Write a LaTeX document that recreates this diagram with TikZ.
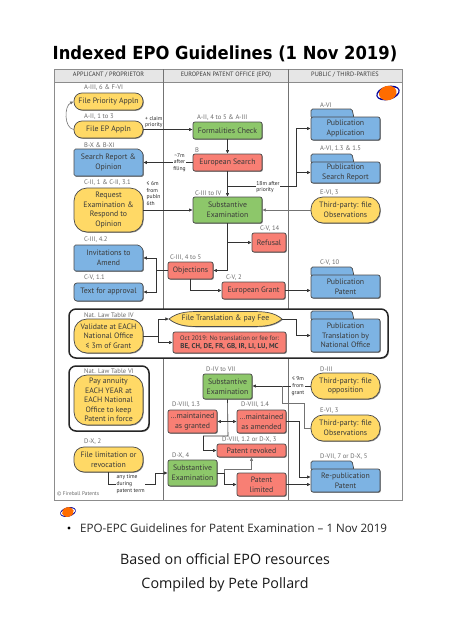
\documentclass[tikz,border=0pt]{standalone}
\usepackage{graphicx}
\usepackage{fontspec}
\setmainfont{PT Sans}
\newfontfamily\titlefont{DejaVu Sans}
\newfontfamily\footfont{Open Sans}
\usetikzlibrary{arrows.meta,shadows,calc}
\definecolor{cyel}{HTML}{FFD966}
\definecolor{cblu}{HTML}{7DB3E3}
\definecolor{cgrn}{HTML}{8DC76A}
\definecolor{cred}{HTML}{F87F74}
\definecolor{cbord}{HTML}{4A4A4A}
\definecolor{ctxt}{HTML}{3A3A3A}
\definecolor{cref}{HTML}{6A6A6A}
\definecolor{chead}{HTML}{E6E6E6}
\tikzset{
 x=1pt,y=-1pt,
 base/.style={draw=cbord,line width=.7pt,inner sep=0pt,align=center,text=ctxt,
   font=\fontsize{7.8}{9.6}\selectfont,
   drop shadow={shadow xshift=.8pt,shadow yshift=-.8pt,opacity=.45,fill=black}},
 yel/.style={base,fill=cyel,rounded corners=8pt},
 bigyel/.style={base,fill=cyel,rounded corners=13pt},
 blu/.style={base,fill=cblu,rounded corners=2pt},
 grn/.style={base,fill=cgrn,rounded corners=2pt},
 rd/.style={base,fill=cred,rounded corners=2pt},
 tab/.style={draw=cbord,line width=.7pt,fill=cblu,rounded corners=1.5pt},
 snip/.style={draw=cbord,line width=.7pt,fill=cblu,rounded corners=1.5pt,
   drop shadow={shadow xshift=.8pt,shadow yshift=-.8pt,opacity=.45,fill=black}},
 lens/.style={draw=cbord,line width=.7pt,fill=cyel,
   drop shadow={shadow xshift=.8pt,shadow yshift=-.8pt,opacity=.45,fill=black}},
 plain/.style={inner sep=0pt,align=center,text=ctxt,font=\fontsize{7.8}{9.6}\selectfont},
 big/.style={draw=black!85,line width=1.5pt,fill=white,rounded corners=7pt,
   drop shadow={shadow xshift=.8pt,shadow yshift=-.8pt,opacity=.4,fill=black}},
 conn/.style={draw=black!80,line width=.6pt,-{Latex[length=3.6pt,width=3.4pt]}},
 line/.style={draw=black!80,line width=.6pt},
 gconn/.style={draw=black!55,line width=.6pt,-{Latex[length=3.6pt,width=3.4pt]}},
 gline/.style={draw=black!55,line width=.6pt},
 ref/.style={anchor=west,inner sep=0pt,text=cref,font=\fontsize{6.6}{7}\selectfont},
 note/.style={inner sep=.5pt,fill=white,align=left,text=black!85,font=\fontsize{5.6}{6.6}\selectfont},
 head/.style={inner sep=0pt,text=ctxt,font=\fontsize{6.3}{7}\selectfont},
 logo/.pic={
   \fill[blue!60!black,rotate=15] (0,0) ellipse (1 and .58);
   \fill[white,rotate=15] (0,0) ellipse (.9 and .42);
   \fill[orange!85!red,rotate=15] (-.02,0) ellipse (.74 and .6);
 },
}
% name, centre y, height, text
\newcommand{\folder}[4]{%
  \draw[tab] (311,#2-#3/2+1) -- (311,#2-#3/2-8) -- (352,#2-#3/2-8) -- (354,#2-#3/2+1) -- cycle;
  \node[blu,minimum width=69pt,minimum height=#3pt] (#1) at (345.5,#2) {#4};}
\begin{document}
\begin{tikzpicture}
\useasboundingbox (0,0) rectangle (450,637);
\fill[white] (0,0) rectangle (450,637);

\node (title) at (225,54) {\scalebox{.91}[1]{\titlefont\bfseries\fontsize{18}{22}\selectfont Indexed EPO Guidelines (1 Nov 2019)}};

% swimlane frame
\draw[draw=black!45,line width=.7pt,fill=white,drop shadow={shadow xshift=.8pt,shadow yshift=-.8pt,opacity=.3,fill=black}] (54,69) rectangle (402,500);
\draw[draw=black!45,line width=.7pt,fill=chead] (54,69) rectangle (402,82);
\draw[draw=black!55,line width=.6pt] (163.5,69) -- (163.5,500) (288.5,69) -- (288.5,500);
\node[head] (h1) at (108.5,75) {APPLICANT / PROPRIETOR};
\node[head] (h2) at (226,75) {EUROPEAN PATENT OFFICE (EPO)};
\node[head] (h3) at (345,75) {PUBLIC / THIRD-PARTIES};
\pic[scale=12] at (388,93) {logo};

% large boxes
\path[big] (69,309) rectangle (388,358);
\path[big] (69,366) rectangle (149,431);

% applicant column
\node[yel,minimum width=69pt,minimum height=17pt] (fp) at (108.5,101.5) {File Priority Appln};
\node[yel,minimum width=69pt,minimum height=17pt] (fe) at (108.5,129.5) {File EP Appln};
\path[snip] (74,149) -- (139,149) -- (143,153) -- (143,176) -- (74,176) -- cycle;
\node[plain,minimum width=69pt,minimum height=27pt] (sr) at (108.5,162.5) {Search Report \&\\Opinion};
\node[bigyel,minimum width=69pt,minimum height=44pt] (rq) at (108.5,210) {Request\\Examination \&\\Respond to\\Opinion};
\path[snip] (74,245) -- (139,245) -- (143,249) -- (143,271) -- (74,271) -- cycle;
\node[plain,minimum width=69pt,minimum height=26pt] (ia) at (108.5,258) {Invitations to\\Amend};
\node[blu,rounded corners=3pt,minimum width=69pt,minimum height=18pt] (ta) at (108.5,292) {Text for approval};
\node[bigyel,minimum width=69pt,minimum height=34pt] (va) at (108.5,336) {Validate at EACH\\National Office\\≤ 3m of Grant};
\node[bigyel,minimum width=69pt,minimum height=50pt] (pa) at (108.5,400) {Pay annuity\\EACH YEAR at\\EACH National\\Office to keep\\Patent in force};
\node[yel,rounded corners=10pt,minimum width=69pt,minimum height=25pt] (fl) at (108.5,459.5) {File limitation or\\revocation};

% EPO column
\node[grn,minimum width=69pt,minimum height=17pt] (fc) at (227.5,130.5) {Formalities Check};
\node[rd,minimum width=69pt,minimum height=17pt] (es) at (227.5,162.5) {European Search};
\node[grn,minimum width=69pt,minimum height=26pt] (se) at (227.5,210) {Substantive\\Examination};
\node[rd,minimum width=34pt,minimum height=19pt] (rf) at (269,242.5) {Refusal};
\node[rd,minimum width=45pt,minimum height=17pt] (ob) at (190.5,270.5) {Objections};
\node[rd,minimum width=63pt,minimum height=17pt] (eg) at (253.5,290.5) {European Grant};
\path[lens] (169,319) .. controls (178,311.5) and (190,311.5) .. (200,311.5) -- (251,311.5) .. controls (264,311.5) and (274,312) .. (282,319) .. controls (274,326) and (264,326.5) .. (251,326.5) -- (200,326.5) .. controls (190,326.5) and (178,326.5) .. (169,319) -- cycle;
\node[plain,minimum width=113pt,minimum height=14pt] (ft) at (225.5,319) {File Translation \& pay Fee};
\node[rd,minimum width=113pt,minimum height=21pt,font=\fontsize{6.6}{8.6}\selectfont] (oc) at (229.5,342.5) {Oct 2019: No translation or fee for:\\{\fontsize{7}{8.6}\selectfont\bfseries BE, CH, DE, FR, GB, IR, LI, LU, MC}};
\node[grn,minimum width=49pt,minimum height=25pt] (s2) at (227.5,386.5) {Substantive\\Examination};
\node[rd,minimum width=49pt,minimum height=23pt] (mg) at (192.5,421.5) {…maintained\\as granted};
\node[rd,minimum width=49pt,minimum height=23pt] (ma) at (261.5,421.5) {…maintained\\as amended};
\node[rd,minimum width=69pt,minimum height=13pt] (pr) at (251.5,450.5) {Patent revoked};
\node[grn,minimum width=49pt,minimum height=26pt] (s3) at (192.5,473) {Substantive\\Examination};
\node[rd,minimum width=49pt,minimum height=23pt] (pl) at (261.5,484.5) {Patent\\limited};

% public column
\folder{pa1}{128.5}{23}{Publication\\Application}
\folder{ps1}{172.5}{21}{Publication\\Search Report}
\node[yel,rounded corners=12pt,minimum width=69pt,minimum height=26pt] (ob1) at (345.5,210) {Third-party: file\\Observations};
\folder{pp1}{286.5}{23}{Publication\\Patent}
\folder{pt1}{335.5}{33}{Publication\\Translation by\\National Office}
\node[yel,rounded corners=12pt,minimum width=69pt,minimum height=26pt] (op1) at (345.5,386) {Third-party: file\\opposition};
\node[yel,rounded corners=12pt,minimum width=69pt,minimum height=26pt] (ob2) at (345.5,428) {Third-party: file\\Observations};
\folder{rp1}{480.5}{23}{Re-publication\\Patent}

% connectors
\draw[gconn] (fe.west) .. controls (64,128) and (64,106) .. (fp.west);
\draw[conn] (fe.east) -- (fe.east -| fc.west);
\draw[conn] (fc.south) -- (es.north);
\draw[conn] (es.west) -- (es.west -| sr.east);
\draw[conn] (es.south) -- (se.north);
\coordinate (j1) at ($(es.south)!.6!(se.north)$);
\coordinate (j2) at (296,187);
\draw[line] (j1) -- (j1 -| j2) -- (j2 |- ps1.west);
\draw[conn] (j2 |- ps1.west) -- (ps1.west);
\draw[conn] (j2 |- ps1.west) -- (j2 |- pa1.west) -- (pa1.west);
\draw[conn] (rq.east) -- (rq.east -| se.west);
\draw[gconn] (ob1.west) -- (se.east);
\draw[conn] (se.south) -- (se.south |- ob.east) -- (ob.east);
\coordinate (j3) at (228,242.5);
\draw[conn] (j3) -- (rf.west);
\coordinate (j4) at (156,270.5);
\draw[line] (ob.west) -- (j4);
\draw[conn] (j4) -- (j4 |- ia.east) -- (ia.east);
\draw[conn] (j4) -- (j4 |- ta.east) -- (ta.east);
\draw[conn] (ob.south) -- (ob.south |- eg.west) -- (eg.west);
\draw[conn] (eg.east) -- (eg.east -| pp1.west);
\coordinate (j5) at (158,336);
\draw[line] (va.east) -- (j5);
\draw[conn] (j5) -- (j5 |- ft.west) -- (169,319);
\draw[conn] (j5) -- (j5 |- oc.west) -- (oc.west);
\coordinate (j6) at (296,319);
\draw[conn] (282,319) -- (j6) -- (j6 |- pt1.west) -- (pt1.west);
\draw[conn] (op1.west) -- (op1.west -| s2.east);
\coordinate (j7) at (304,403);
\coordinate (j8) at (282,403);
\draw[gline] (ob2.west) -- (ob2.west -| j7) -- (j7) -- (j8) -- (j8 |- op1.west);
\coordinate (j9) at (228,436);
\coordinate (j10) at (203,436);
\draw[line] (s2.south) -- (j9) -- (j10);
\draw[conn] (j10) -- (j10 |- pr.west) -- (pr.west);
\coordinate (j11) at (228,421.5);
\draw[conn] (j11) -- (mg.east);
\draw[conn] (j11) -- (ma.west);
\coordinate (j12) at (299,421.5);
\coordinate (j13) at (299,477);
\coordinate (rp2) at (rp1.west |- j13);
\draw[conn] (ma.east) -- (j12) -- (j13) -- (rp2);
\draw[conn] (pl.east) -- (pl.east -| rp1.west);
\coordinate (j14) at (108.5,484);
\coordinate (j15) at (155,484);
\draw[conn] (fl.south) -- (j14) -- (j15) -- (j15 |- s3.west) -- (s3.west);
\coordinate (j16) at (224,473);
\coordinate (j17) at (224,469);
\coordinate (j18) at (251.5,469);
\draw[line] (s3.east) -- (j16);
\draw[gconn] (j16) -- (j17) -- (j18) -- (pr.south);
\draw[conn] (j16) -- (j16 |- pl.west) -- (pl.west);

% connector labels
\node[note,anchor=west] (n1) at (144.5,122) {+ claim\\priority};
\node[note,align=center] (n2) at (179.5,162.5) {\textasciitilde 7m\\after\\filing};
\node[note,anchor=north west,fill=none] (n3) at (146,181) {≤ 6m\\from\\publn\\6th};
\node[note,align=left] (n4) at (268,187) {18m after\\priority};
\node[note,align=center] (n5) at (298,386) {≤ 9m\\from\\grant};
\node[note,anchor=west] (n6) at (116,484) {any time\\during\\patent term};

% reference labels
\foreach \nm/\xx/\yy/\tt in {
  a/84/88/{A-III, 6 \& F-VI}, b/84/117/{A-II, 1 to 3}, c/84/145/{B-X \& B-XI},
  d/84/183/{C-II, 1 \& C-II, 3.1}, e/84/240/{C-III, 4.2}, f/84/278/{C-V, 1.1},
  g/84/315/{Nat. Law Table IV}, h/84/371/{Nat. Law Table VI}, i/84/442/{D-X, 2},
  j/197/118/{A-II, 4 to 5 \& A-III}, k/195/150/{B}, l/195/193/{C-III to IV},
  m/260/229/{C-V, 14}, n/170/258/{C-III, 4 to 5}, o/226/278/{C-V, 2},
  p/320/105/{A-VI}, q/320/149/{A-VI, 1.3 \& 1.5}, r/320/193/{E-VI, 3}, s/320/263/{C-V, 10},
  t/206/369/{D-IV to VII}, u/172/405/{D-VIII, 1.3}, v/241/405/{D-VIII, 1.4},
  w/222/440/{D-VIII, 1.2 or D-X, 3}, x/172/456/{D-X, 4}, y/320/369/{D-III},
  z/320/411/{E-VI, 3}, aa/320/457/{D-VII, 7 or D-X, 5}}
  {\node[ref] (r\nm) at (\xx,\yy) {\tt};}
\node[ref,font=\fontsize{5.4}{6}\selectfont] (cp) at (57,494) {© Fireball Patents};

% below the frame
\pic[scale=8] at (68,512) {logo};
\fill[black] (69,528) circle (1.6);
\node[anchor=west,inner sep=0pt,text=black!85,font=\footfont\fontsize{11.6}{13}\selectfont] (b1) at (80,528) {EPO-EPC Guidelines for Patent Examination – 1 Nov 2019};
\node[inner sep=0pt,text=black!90,font=\footfont\fontsize{14.3}{16}\selectfont] (b2) at (225,559) {Based on official EPO resources};
\node[inner sep=0pt,text=black!90,font=\footfont\fontsize{14.3}{16}\selectfont] (b3) at (225,585) {Compiled by Pete Pollard};
\end{tikzpicture}
\end{document}
